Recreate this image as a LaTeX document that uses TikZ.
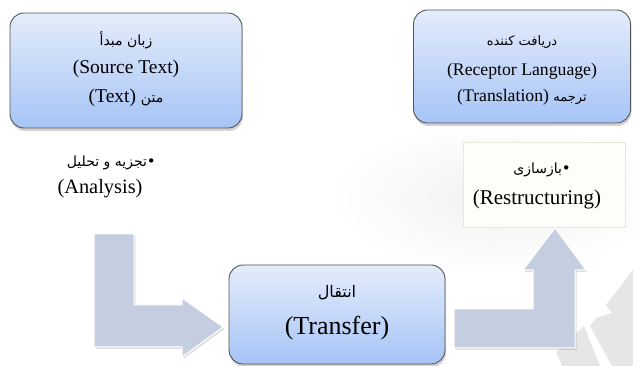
\documentclass[tikz,border=0pt]{standalone}
\usepackage{fontspec}
\setmainfont{Liberation Serif}
\newfontfamily\ar[Script=Arabic]{DejaVu Sans}
\newfontfamily\bul{DejaVu Sans}
\TeXXeTstate=1
\usetikzlibrary{shadows,fadings}
\definecolor{arrowfill}{RGB}{196,206,224}
\definecolor{boxtop}{RGB}{228,236,251}
\definecolor{boxbot}{RGB}{166,196,246}
\definecolor{boxline}{RGB}{85,85,85}
\definecolor{restfill}{RGB}{253,253,249}
\definecolor{restline}{RGB}{232,232,216}
\definecolor{wmark}{RGB}{230,230,230}
\tikzfading[name=glowfade, inner color=transparent!20, outer color=transparent!100]
\tikzset{
  bluebox/.style={draw=boxline, line width=0.9pt, rounded corners=14pt,
    top color=boxtop, bottom color=boxbot, inner sep=0pt,
    drop shadow={opacity=0.35, shadow xshift=1pt, shadow yshift=-3pt}},
  restbox/.style={draw=restline, line width=0.8pt, fill=restfill, inner sep=0pt},
  blockarrow/.style={fill=arrowfill, draw=white, line width=1pt,
    drop shadow={opacity=0.25, shadow xshift=1.5pt, shadow yshift=-2pt}},
  lat/.style={inner sep=0pt, font=\fontsize{#1}{#1}\selectfont},
  arb/.style={inner sep=0pt, font=\fontsize{#1}{#1}\selectfont\ar},
}
\newcommand{\mybullet}{{\bul\fontsize{15}{15}\selectfont •}}
\begin{document}
\begin{tikzpicture}[x=1pt,y=-1pt]
\useasboundingbox (0,0) rectangle (633,366);
% watermark
\fill[wmark] (633,270) -- (606,305) -- (612,313) -- (596,318) -- (590,326)
  -- (612,366) -- (633,366) -- cycle;
\fill[wmark] (584,326) -- (556,352) -- (562,366) -- (600,366) -- cycle;
% soft glow around restructuring box
\fill[gray!14, path fading=glowfade] (330,120) rectangle (660,275);
% boxes
\node[bluebox, minimum width=232pt, minimum height=115pt] (src) at (126,70.5) {};
\node[bluebox, minimum width=217pt, minimum height=113pt] (rcp) at (522,66.5) {};
\node[bluebox, minimum width=216pt, minimum height=99pt] (trf) at (337,314.5) {};
\node[restbox, minimum width=162pt, minimum height=85pt] (rst) at (544,184.5) {};
% arrows
\path[blockarrow] (94,234) -- (134,234) -- (134,305) -- (182,305) -- (182,298)
  -- (223,327) -- (182,357) -- (182,347) -- (94,347) -- cycle;
\path[blockarrow] (454,309) -- (533,309) -- (533,270) -- (523,270) -- (555,228)
  -- (586,270) -- (575,270) -- (575,348) -- (454,348) -- cycle;
% texts box 1
\node[arb=14] (s1) at (126,40) {\beginR زبان مبدأ\endR};
\node[lat=19.5] (s2) at (126,69) {(Source Text)};
\node[lat=19.5] (s3) at (126,98) {(Text) {\ar\fontsize{14}{14}\selectfont\beginR متن\endR}};
% texts box 2
\node[arb=13] (r1) at (522,42) {\beginR دریافت کننده\endR};
\node[lat=17.7] (r2) at (522,71) {(Receptor Language)};
\node[lat=17.7] (r3) at (522,97) {(Translation) {\ar\fontsize{13}{13}\selectfont\beginR ترجمه\endR}};
% transfer
\node[arb=16] (t1) at (337,293) {\beginR انتقال\endR};
\node[lat=26] (t2) at (337,328) {(Transfer)};
% analysis
\node[arb=14, anchor=east] (a1) at (156,163) {\beginR تجزیه و تحلیل\endR\mybullet};
\node[lat=20.4] (a2) at (100,189) {(Analysis)};
% restructuring
\node[arb=14, anchor=east] (b1) at (571,170) {\beginR بازسازی\endR\mybullet};
\node[lat=21] (b2) at (537,199) {(Restructuring)};
\end{tikzpicture}
\end{document}
